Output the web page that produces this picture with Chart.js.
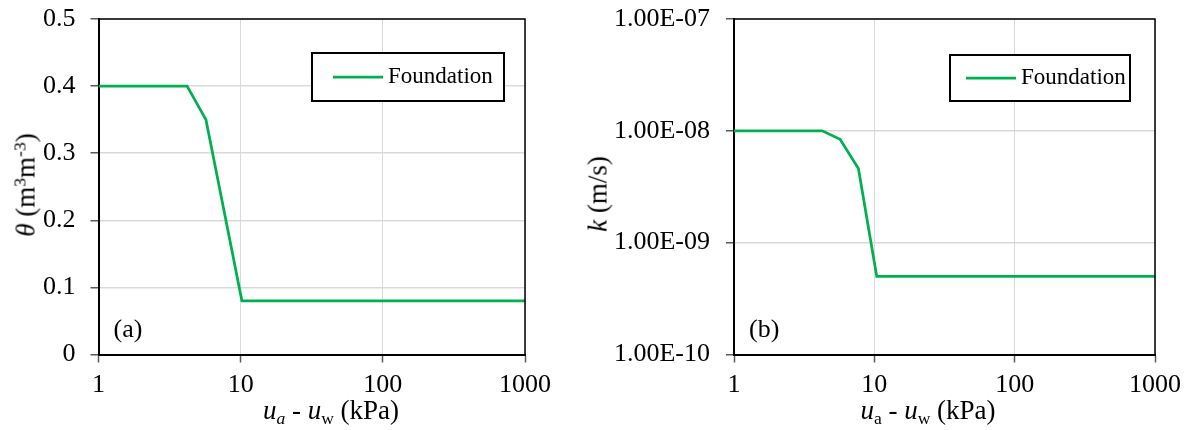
<!DOCTYPE html>
<html>
<head>
<meta charset="utf-8">
<script src="https://cdn.jsdelivr.net/npm/chart.js@4.4.1/dist/chart.umd.min.js"></script>
<style>
  body { margin: 0; background: #fff; }
  #wrap { position: relative; width: 1189px; height: 430px; font-family: "Liberation Serif", "Times New Roman", serif; color: #000; }
  canvas { position: absolute; top: 0; }
  .title { position: absolute; font-size: 27px; line-height: 27px; white-space: nowrap; }
  .title sub, .title sup { font-size: 0.65em; line-height: 0; }
  .title sub { vertical-align: -0.3em; }
  .title sup { vertical-align: 0.5em; }
  .ytitle { transform: translate(-50%, -50%) rotate(-90deg); }
  .xtitle { transform: translateX(-50%); }
</style>
</head>
<body>
<div id="wrap">
  <canvas id="thetaChart" width="560" height="430" style="left:0"></canvas>
  <canvas id="kChart" width="629" height="430" style="left:560px"></canvas>
  <div class="title ytitle" style="left:26px; top:185px"><i>θ</i> (m<sup>3</sup>m<sup>-3</sup>)</div>
  <div class="title xtitle" style="left:331px; top:397px"><i>u<sub>a</sub></i> - <i>u</i><sub>w</sub> (kPa)</div>
  <div class="title ytitle" style="left:598px; top:194px"><i>k</i> (m/s)</div>
  <div class="title xtitle" style="left:928px; top:397px"><i>u</i><sub>a</sub> - <i>u</i><sub>w</sub> (kPa)</div>
</div>
<script>
// water retention curve: matric suction (kPa) vs volumetric water content
const suctionTheta = [1, 4.2, 5.7, 10.2, 1000];
const theta = [0.4, 0.4, 0.35, 0.08, 0.08];

// hydraulic conductivity function: matric suction (kPa) vs k (m/s)
const suctionK = [1, 4.25, 5.7, 7.7, 10.4, 1000];
const conductivity = [1e-8, 1e-8, 8.4e-9, 4.6e-9, 5e-10, 5e-10];

const suctionTicks = [1, 10, 100, 1000];
const kTicks = [1e-10, 1e-9, 1e-8, 1e-7];
const seriesName = 'Foundation';
const seriesColor = '#00b050';

const serif = '"Liberation Serif", "Times New Roman", serif';

// plot top edge wanted at y = 19
const plotTop = 19;

// frame, legend box and panel letter
const panelDecor = {
    id: 'panelDecor',
    afterDraw(chart, args, opts) {
        const ctx = chart.ctx;
        const a = chart.chartArea;
        ctx.save();
        ctx.strokeStyle = '#000';
        ctx.lineWidth = 1.5;
        ctx.beginPath();
        ctx.moveTo(a.left, a.top);
        ctx.lineTo(a.right, a.top);
        ctx.lineTo(a.right, a.bottom);
        ctx.stroke();

        const lg = opts.legend;
        const ds = chart.data.datasets[0];
        const bx = a.right - lg.right - lg.width;
        const by = a.top + lg.top;
        ctx.fillStyle = '#fff';
        ctx.fillRect(bx, by, lg.width, lg.height);
        ctx.lineWidth = 2;
        ctx.strokeRect(bx, by, lg.width, lg.height);
        const my = by + lg.height / 2;
        ctx.strokeStyle = ds.borderColor;
        ctx.lineWidth = ds.borderWidth;
        ctx.beginPath();
        ctx.moveTo(bx + lg.pad, my);
        ctx.lineTo(bx + lg.pad + 50, my);
        ctx.stroke();
        ctx.fillStyle = '#000';
        ctx.font = '23px ' + serif;
        ctx.textBaseline = 'middle';
        ctx.textAlign = 'left';
        ctx.fillText(ds.label, bx + lg.pad + 55, my);

        ctx.font = '26px ' + serif;
        ctx.fillText(opts.tag, a.left + 15, a.bottom - 24);
        ctx.restore();
    }
};

function suctionAxis() {
    return {
        type: 'logarithmic',
        min: 1,
        max: 1000,
        afterBuildTicks: s => { s.ticks = suctionTicks.map(v => ({ value: v })); },
        afterFit: s => { s.height = 75.5; },
        ticks: {
            callback: v => String(v),
            font: { family: serif, size: 26 },
            color: '#000',
            padding: 7,
            maxRotation: 0,
            autoSkip: false
        },
        grid: { color: '#d9d9d9', lineWidth: 1, tickLength: 8, tickColor: '#595959', tickWidth: 1.5 },
        border: { color: '#000', width: 2 }
    };
}

function buildOptions(yAxis, tag, legend, rightPad) {
    return {
        responsive: false,
        animation: false,
        devicePixelRatio: 1,
        layout: { padding: { left: 0, right: rightPad, top: 0, bottom: 0 } },
        scales: { x: suctionAxis(), y: yAxis },
        plugins: {
            legend: { display: false },
            tooltip: { enabled: false },
            panelDecor: { tag: tag, legend: legend }
        }
    };
}

// y axis label overflow would push the plot down; keep the plot top fixed
function pinTop(s) {
    s.paddingTop = 0;
}

function lineDataset(xs, ys) {
    return {
        label: seriesName,
        data: xs.map((x, i) => ({ x: x, y: ys[i] })),
        borderColor: seriesColor,
        borderWidth: 2.75,
        pointRadius: 0,
        tension: 0,
        fill: false
    };
}

const topSpacer = {
    id: 'topSpacer',
    beforeInit(chart) {
        chart.options.layout.padding.top = plotTop;
    }
};

new Chart(document.getElementById('thetaChart'), {
    type: 'line',
    data: { datasets: [lineDataset(suctionTheta, theta)] },
    options: buildOptions({
        type: 'linear',
        min: 0,
        max: 0.5,
        afterFit: s => { s.width = 98.5; pinTop(s); },
        ticks: {
            stepSize: 0.1,
            callback: v => String(+v.toFixed(1)),
            font: { family: serif, size: 26 },
            color: '#000',
            padding: 15
        },
        grid: { color: '#d9d9d9', lineWidth: 1.5, tickLength: 8, tickColor: '#595959', tickWidth: 1.5 },
        border: { color: '#000', width: 2 }
    }, '(a)', { right: 21, top: 34, width: 192, height: 48, pad: 21 }, 35),
    plugins: [panelDecor, topSpacer]
});

new Chart(document.getElementById('kChart'), {
    type: 'line',
    data: { datasets: [lineDataset(suctionK, conductivity)] },
    options: buildOptions({
        type: 'logarithmic',
        min: 1e-10,
        max: 1e-7,
        afterBuildTicks: s => { s.ticks = kTicks.map(v => ({ value: v })); },
        afterFit: s => { s.width = 174; pinTop(s); },
        ticks: {
            callback: v => v.toExponential(2).toUpperCase().replace(/E([+-])(\d)$/, 'E$10$2'),
            font: { family: serif, size: 26 },
            color: '#000',
            padding: 16
        },
        grid: { color: '#d9d9d9', lineWidth: 1.5, tickLength: 8, tickColor: '#595959', tickWidth: 1.5 },
        border: { color: '#000', width: 2 }
    }, '(b)', { right: 25, top: 36, width: 180, height: 46, pad: 16 }, 34),
    plugins: [panelDecor, topSpacer]
});
</script>
</body>
</html>
